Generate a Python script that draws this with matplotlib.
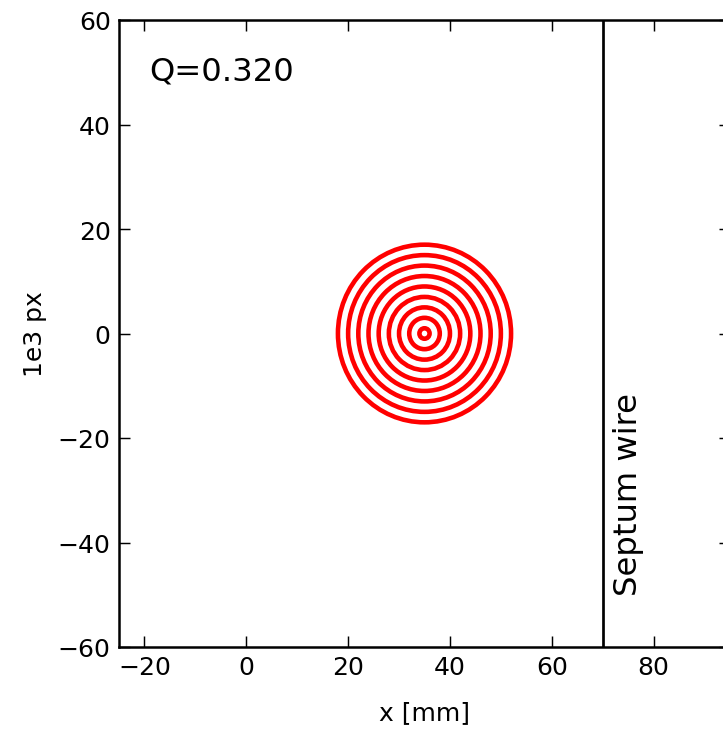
import numpy as np
import matplotlib
matplotlib.use("Agg")
import matplotlib.pyplot as plt
from matplotlib.patches import Circle

# beam centre and ring amplitudes
center_x = 35.0
center_y = 0.0
amplitudes = [1, 3, 5, 7, 9, 11, 13, 15, 17]
septum_x = 70.0
tune = 0.320

xticks = [-20, 0, 20, 40, 60, 80]
yticks = [-60, -40, -20, 0, 20, 40, 60]

plt.rcParams['font.family'] = 'DejaVu Sans'
plt.rcParams['font.size'] = 12

fig = plt.figure(figsize=(723 / 150, 730 / 150), dpi=150)
ax = fig.add_axes([119 / 723, 82 / 730, 611 / 723, 627 / 730])

# rings of the phase space
for a in amplitudes:
    ax.add_patch(Circle((center_x, center_y), a, fill=False, edgecolor='red', linewidth=2.2))

ax.axvline(septum_x, color='k', linewidth=1.3)
ax.text(septum_x + 2.0, -50, 'Septum wire', rotation=90, fontsize=15.5,
        ha='left', va='bottom')
ax.text(0.05, 0.905, 'Q=%.3f' % tune, transform=ax.transAxes, fontsize=15.5,
        ha='left', va='baseline')

ax.set_xlim(-25, 95)
ax.set_ylim(-60, 60)
ax.set_xticks(xticks)
ax.set_yticks(yticks)
ax.tick_params(direction='in', length=5.5, width=0.7, top=True, right=True, labelsize=12, pad=4)
for s in ax.spines.values():
    s.set_linewidth(1.2)
ax.set_xlabel('x [mm]', fontsize=12, labelpad=10)
ax.set_ylabel('1e3 px', fontsize=12, labelpad=5)

fig.savefig('out.png', dpi=150, facecolor='white')
